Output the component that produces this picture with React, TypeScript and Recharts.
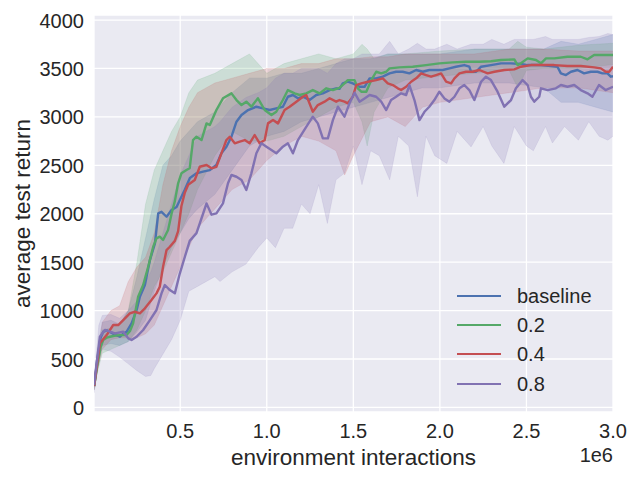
import React from 'react';
import { ComposedChart, Line, Area, XAxis, YAxis, CartesianGrid, Label } from 'recharts';

const FONT = '"Liberation Sans", Arial, sans-serif';
const TEXT = '#262626';

const xTicks = [0.5, 1.0, 1.5, 2.0, 2.5, 3.0];
const yTicks = [0, 500, 1000, 1500, 2000, 2500, 3000, 3500, 4000];
const seriesNames = ['baseline', '0.2', '0.4', '0.8'];
const seriesColors = ['#4C72B0', '#55A868', '#C44E52', '#8172B2'];

// mean curves: [interactions (1e6), average test return]
const baselinePoints: [number, number][] = [
  [0.003,220],[0.02,480],[0.04,720],[0.055,780],[0.075,795],[0.094,780],[0.12,755],[0.152,730],[0.17,760],[0.19,780],
  [0.219,868],[0.248,1005],[0.267,1143],[0.296,1264],[0.325,1522],[0.354,1694],[0.373,2004],[0.392,2020],[0.421,1969],[0.45,2038],
  [0.479,2070],[0.498,2141],[0.527,2250],[0.556,2370],[0.594,2417],[0.632,2434],[0.671,2451],[0.709,2503],[0.738,2624],[0.767,2692],
  [0.796,2795],[0.825,2950],[0.854,3019],[0.892,3071],[0.94,3105],[0.978,3088],[1.017,3071],[1.055,3088],[1.093,3105],[1.122,3208],
  [1.151,3226],[1.18,3192],[1.209,3208],[1.247,3174],[1.286,3226],[1.324,3243],[1.363,3277],[1.401,3295],[1.42,3290],[1.439,3346],
  [1.468,3363],[1.497,3346],[1.536,3311],[1.565,3311],[1.594,3398],[1.632,3398],[1.67,3415],[1.709,3449],[1.747,3466],[1.785,3466],
  [1.824,3449],[1.863,3484],[1.901,3466],[1.939,3484],[1.978,3484],[2.016,3484],[2.055,3501],[2.093,3518],[2.141,3535],[2.17,3518],
  [2.18,3466],[2.209,3466],[2.238,3518],[2.295,3535],[2.353,3553],[2.411,3553],[2.468,3546],[2.506,3535],[2.545,3535],[2.584,3535],
  [2.641,3525],[2.679,3518],[2.699,3449],[2.728,3432],[2.757,3466],[2.795,3484],[2.833,3449],[2.872,3466],[2.91,3466],[2.939,3449],
  [2.968,3449],[2.987,3415],[3.0,3420],
];

const p02Points: [number, number][] = [
  [0.003,220],[0.02,420],[0.04,620],[0.055,696],[0.075,720],[0.094,730],[0.12,740],[0.152,747],[0.19,747],[0.21,790],
  [0.228,868],[0.257,1143],[0.286,1264],[0.315,1453],[0.344,1659],[0.363,1746],[0.382,1763],[0.401,1729],[0.43,1832],[0.45,2000],
  [0.469,2130],[0.488,2314],[0.507,2417],[0.536,2451],[0.555,2470],[0.574,2761],[0.594,2795],[0.623,2761],[0.652,2933],[0.671,2916],
  [0.709,3071],[0.747,3192],[0.796,3243],[0.825,3174],[0.854,3122],[0.882,3157],[0.911,3105],[0.949,3192],[0.988,3071],[1.027,3019],
  [1.055,3053],[1.093,3174],[1.122,3277],[1.161,3243],[1.19,3226],[1.228,3243],[1.266,3277],[1.305,3243],[1.344,3295],[1.382,3277],
  [1.42,3300],[1.449,3346],[1.468,3380],[1.507,3380],[1.526,3295],[1.546,3260],[1.575,3260],[1.604,3380],[1.632,3466],[1.661,3449],
  [1.69,3466],[1.709,3501],[1.766,3511],[1.843,3518],[1.92,3535],[1.997,3553],[2.074,3563],[2.151,3570],[2.228,3570],[2.295,3575],
  [2.353,3587],[2.43,3594],[2.449,3535],[2.468,3553],[2.507,3604],[2.555,3587],[2.584,3553],[2.613,3604],[2.661,3604],[2.737,3621],
  [2.814,3621],[2.853,3594],[2.891,3639],[2.968,3639],[3.0,3639],
];

const p04Points: [number, number][] = [
  [0.003,220],[0.02,450],[0.036,662],[0.075,747],[0.113,851],[0.142,851],[0.171,902],[0.209,971],[0.238,988],[0.267,971],
  [0.296,1023],[0.334,1109],[0.363,1178],[0.382,1246],[0.401,1453],[0.421,1625],[0.44,1659],[0.469,1720],[0.488,1820],[0.507,2080],
  [0.527,2220],[0.546,2300],[0.584,2348],[0.613,2485],[0.652,2503],[0.681,2469],[0.709,2485],[0.738,2624],[0.767,2761],[0.786,2795],
  [0.815,2727],[0.844,2744],[0.873,2761],[0.901,2727],[0.93,2813],[0.959,2727],[0.988,2761],[1.007,2933],[1.036,2967],[1.065,2933],
  [1.103,3071],[1.132,3105],[1.171,3157],[1.209,3208],[1.228,3226],[1.266,3053],[1.295,3122],[1.334,3157],[1.363,3192],[1.401,3157],
  [1.42,3174],[1.449,3157],[1.468,3140],[1.497,3208],[1.517,3329],[1.546,3346],[1.584,3363],[1.632,3380],[1.67,3398],[1.699,3346],
  [1.728,3329],[1.757,3295],[1.776,3277],[1.805,3311],[1.834,3363],[1.863,3398],[1.892,3449],[1.92,3432],[1.949,3415],[1.978,3432],
  [2.007,3449],[2.036,3363],[2.065,3346],[2.084,3398],[2.113,3449],[2.151,3466],[2.189,3466],[2.228,3484],[2.276,3449],[2.315,3466],
  [2.372,3484],[2.43,3491],[2.468,3518],[2.526,3535],[2.584,3535],[2.66,3535],[2.737,3525],[2.814,3525],[2.891,3511],[2.93,3501],
  [2.958,3466],[2.978,3466],[3.0,3518],
];

const p08Points: [number, number][] = [
  [0.002,230],[0.036,730],[0.065,800],[0.094,782],[0.123,765],[0.171,782],[0.2,713],[0.219,696],[0.248,730],[0.286,800],
  [0.325,902],[0.363,1006],[0.392,1178],[0.411,1264],[0.44,1212],[0.469,1178],[0.498,1385],[0.527,1556],[0.555,1720],[0.594,1800],
  [0.632,2000],[0.652,2107],[0.681,1990],[0.709,2004],[0.747,2107],[0.776,2314],[0.796,2400],[0.825,2382],[0.854,2348],[0.882,2245],
  [0.911,2417],[0.94,2624],[0.969,2727],[0.998,2692],[1.027,2658],[1.055,2624],[1.093,2692],[1.122,2727],[1.151,2624],[1.18,2761],
  [1.228,2898],[1.266,3002],[1.295,2933],[1.324,2778],[1.353,2778],[1.382,2967],[1.411,3105],[1.449,3002],[1.478,3140],[1.507,3250],
  [1.536,3157],[1.565,3191],[1.594,3226],[1.632,3208],[1.661,3157],[1.69,3071],[1.718,3174],[1.747,3208],[1.776,3243],[1.805,3226],
  [1.824,3329],[1.853,3174],[1.882,2967],[1.911,3053],[1.939,3105],[1.968,3174],[1.997,3260],[2.026,3191],[2.055,3157],[2.084,3208],
  [2.113,3295],[2.141,3329],[2.17,3277],[2.199,3174],[2.238,3363],[2.266,3415],[2.295,3380],[2.333,3260],[2.372,3105],[2.411,3174],
  [2.439,3295],[2.478,3380],[2.507,3329],[2.526,3208],[2.545,3157],[2.574,3208],[2.584,3295],[2.622,3277],[2.67,3295],[2.699,3329],
  [2.737,3311],[2.776,3329],[2.814,3277],[2.853,3243],[2.881,3208],[2.919,3329],[2.957,3277],[3.0,3311],
];

// shaded spread: [interactions (1e6), low, high]
const baselineBand: [number, number, number][] = [
  [0.003,180,260],[0.02,380,560],[0.05,640,880],[0.1,660,900],[0.15,640,860],[0.2,680,1000],[0.25,780,1350],[0.3,900,1750],
  [0.35,1200,2150],[0.4,1450,2500],[0.45,1650,2600],[0.5,1800,2750],[0.55,1950,2850],[0.6,2050,2950],[0.7,2200,3050],[0.8,2450,3250],
  [0.9,2700,3400],[1.0,2800,3400],[1.1,2850,3450],[1.2,2950,3450],[1.3,3000,3500],[1.4,3050,3550],[1.5,3100,3600],[1.6,3150,3600],
  [1.7,3200,3650],[1.8,3250,3650],[1.9,3300,3650],[2.0,3300,3650],[2.2,3350,3700],[2.4,3350,3700],[2.6,3300,3700],[2.7,3150,3780],
  [2.8,3150,3750],[2.9,3100,3800],[3.0,3050,3850],
];

const p02Band: [number, number, number][] = [
  [0.003,180,260],[0.02,350,500],[0.05,560,800],[0.1,600,820],[0.15,640,860],[0.2,680,1000],[0.25,800,1500],[0.3,1000,2100],
  [0.35,1250,2450],[0.4,1400,2650],[0.45,1600,2850],[0.5,1800,3000],[0.55,2000,3250],[0.6,2250,3380],[0.7,2600,3450],[0.8,2850,3550],
  [0.9,2750,3650],[1.0,2750,3450],[1.1,2800,3550],[1.2,2900,3600],[1.3,3000,3650],[1.4,3100,3600],[1.5,3150,3650],[1.55,2950,3750],
  [1.58,2700,3700],[1.62,3050,3600],[1.7,3300,3650],[1.8,3380,3650],[2.0,3420,3680],[2.2,3450,3700],[2.4,3480,3700],[2.45,3300,3780],
  [2.5,3480,3720],[2.6,3500,3700],[2.8,3500,3740],[3.0,3540,3760],
];

const p04Band: [number, number, number][] = [
  [0.003,180,260],[0.02,370,540],[0.05,600,880],[0.1,700,1000],[0.15,720,1050],[0.2,720,1300],[0.25,720,1450],[0.3,760,1550],
  [0.35,850,1800],[0.4,1050,2300],[0.45,1250,2650],[0.5,1450,2900],[0.55,1650,3100],[0.6,1850,3250],[0.7,2050,3350],[0.8,2250,3400],
  [0.9,2350,3450],[1.0,2550,3500],[1.1,2700,3500],[1.2,2800,3550],[1.3,2750,3550],[1.4,2650,3600],[1.45,2400,3600],[1.5,2600,3600],
  [1.6,2950,3620],[1.7,3000,3620],[1.8,2900,3650],[1.9,3100,3650],[2.0,3150,3650],[2.2,3200,3650],[2.4,3250,3700],[2.6,3300,3700],
  [2.8,3300,3680],[3.0,3250,3680],
];

const p08Band: [number, number, number][] = [
  [0.003,150,280],[0.03,550,850],[0.05,600,950],[0.1,580,960],[0.15,520,920],[0.2,450,1000],[0.25,380,1100],[0.3,320,1300],
  [0.33,330,1400],[0.35,400,1500],[0.4,550,1800],[0.45,700,2100],[0.5,900,2400],[0.55,1200,2600],[0.6,1250,2800],[0.7,1350,2900],
  [0.73,1300,2950],[0.8,1400,3100],[0.88,1480,3200],[0.95,1650,3250],[1.0,1750,3300],[1.05,1650,3400],[1.1,1850,3450],[1.15,1850,3450],
  [1.2,2100,3500],[1.25,2000,3500],[1.3,2300,3500],[1.35,1900,3450],[1.4,2350,3550],[1.45,2420,3600],[1.5,2700,3600],[1.55,2300,3650],
  [1.6,2650,3650],[1.65,2600,3650],[1.71,2350,3780],[1.76,2800,3650],[1.82,2700,3700],[1.87,2175,3760],[1.92,2800,3700],[1.97,2600,3700],
  [2.04,2520,3750],[2.1,2850,3700],[2.18,2690,3750],[2.25,2900,3750],[2.3,2700,3800],[2.37,2520,3750],[2.43,2900,3800],[2.5,2700,3800],
  [2.54,2650,3800],[2.61,2900,3830],[2.65,2730,3800],[2.72,2900,3800],[2.8,2760,3800],[2.86,2950,3820],[2.92,2800,3830],[2.97,2760,3860],
  [3.0,2800,3850],
];

const allPoints = [baselinePoints, p02Points, p04Points, p08Points];
const allBands = [baselineBand, p02Band, p04Band, p08Band];

const toLine = (pts: [number, number][]) => pts.map(([x, y]) => ({ x, y }));
const toBand = (b: [number, number, number][]) => b.map(([x, lo, hi]) => ({ x, range: [lo, hi] }));

const XTick = (props: any) => {
  const { x, payload } = props;
  return (
    <text x={x} y={438} textAnchor="middle" fontSize={20} fontFamily={FONT} fill={TEXT}>
      {Number(payload.value).toFixed(1)}
    </text>
  );
};

const YTick = (props: any) => {
  const { y, payload } = props;
  return (
    <text x={84} y={y + 7.5} textAnchor="end" fontSize={20} fontFamily={FONT} fill={TEXT}>
      {String(payload.value)}
    </text>
  );
};

const XLabel = (props: any) => {
  const vb = props.viewBox || { x: 94, y: 412, width: 519, height: 68 };
  return (
    <g>
      <text x={vb.x + vb.width / 2} y={vb.y + 53} textAnchor="middle" fontSize={22.5} fontFamily={FONT} fill={TEXT}>
        environment interactions
      </text>
      <text x={vb.x + vb.width} y={vb.y + 49.5} textAnchor="end" fontSize={20} fontFamily={FONT} fill={TEXT}>
        1e6
      </text>
    </g>
  );
};

const YLabel = (props: any) => {
  const vb = props.viewBox || { x: 0, y: 15, width: 94, height: 397 };
  const cx = 30;
  const cy = vb.y + vb.height / 2;
  return (
    <text x={cx} y={cy} transform={`rotate(-90, ${cx}, ${cy})`} textAnchor="middle" fontSize={22.5} fontFamily={FONT} fill={TEXT}>
      average test return
    </text>
  );
};

const LegendBox = () => (
  <div style={{ position: 'absolute', left: 457, top: 281, fontFamily: FONT, fontSize: 20, color: TEXT }}>
    {seriesNames.map((name, i) => (
      <div key={name} style={{ display: 'flex', alignItems: 'center', height: 29.3 }}>
        <svg width={44} height={6} style={{ display: 'block' }}>
          <line x1={0} y1={3} x2={44} y2={3} stroke={seriesColors[i]} strokeWidth={2.2} />
        </svg>
        <span style={{ marginLeft: 16, lineHeight: '20px' }}>{name}</span>
      </div>
    ))}
  </div>
);

export default function App() {
  return (
    <div style={{ position: 'absolute', left: 0, top: 0, width: 640, height: 480, background: '#ffffff' }}>
      <ComposedChart width={640} height={480} margin={{ top: 15, right: 27, bottom: 0, left: 0 }}>
        <CartesianGrid fill="#EAEAF2" fillOpacity={1} stroke="#ffffff" strokeWidth={1.3} />
        <XAxis
          type="number"
          dataKey="x"
          domain={[0.002, 3.0]}
          ticks={xTicks}
          allowDataOverflow
          axisLine={false}
          tickLine={false}
          height={68}
          tick={<XTick />}
          interval={0}
        >
          <Label content={<XLabel />} />
        </XAxis>
        <YAxis
          type="number"
          domain={[-47, 4052]}
          ticks={yTicks}
          allowDataOverflow
          axisLine={false}
          tickLine={false}
          width={94}
          tick={<YTick />}
          interval={0}
        >
          <Label content={<YLabel />} />
        </YAxis>
        {allPoints.map((pts, i) => [
          <Area
            key={`band-${i}`}
            data={toBand(allBands[i])}
            dataKey="range"
            type="linear"
            stroke={seriesColors[i]}
            strokeOpacity={0.12}
            strokeWidth={1}
            fill={seriesColors[i]}
            fillOpacity={0.2}
            isAnimationActive={false}
            legendType="none"
            dot={false}
            activeDot={false}
          />,
          <Line
            key={`line-${i}`}
            data={toLine(pts)}
            dataKey="y"
            name={seriesNames[i]}
            type="linear"
            stroke={seriesColors[i]}
            strokeWidth={2.4}
            strokeLinejoin="round"
            dot={false}
            activeDot={false}
            isAnimationActive={false}
          />,
        ])}
      </ComposedChart>
      <LegendBox />
    </div>
  );
}
